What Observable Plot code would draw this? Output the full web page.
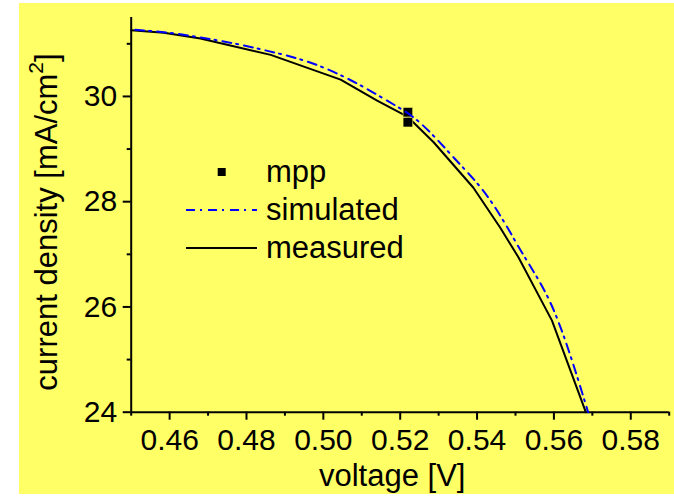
<!DOCTYPE html>
<html>
<head>
<meta charset="utf-8">
<script src="https://cdn.jsdelivr.net/npm/d3@7"></script>
<script src="https://cdn.jsdelivr.net/npm/@observablehq/plot@0.6"></script>
<style>
  html, body { margin: 0; padding: 0; background: #ffffff; }
  #wrap { position: relative; width: 674px; height: 499px; overflow: hidden; }
  #bg { position: absolute; left: 19px; top: 3px; width: 655px; height: 491px; background: #FFFF66; }
  #chart { position: absolute; left: 0; top: 0; }
  svg { font-family: "Liberation Sans", Arial, sans-serif; }
</style>
</head>
<body>
<div id="wrap"><div id="bg"></div><div id="chart"></div></div>
<script>
// ---- data ----
const measuredV = [0.450, 0.4585, 0.468, 0.4863, 0.5045, 0.514, 0.522, 0.5287, 0.539, 0.546, 0.5508, 0.5595, 0.5683];
const measuredJ = [31.26, 31.21, 31.10, 30.79, 30.32, 29.92, 29.61, 29.13, 28.27, 27.51, 26.94, 25.74, 24.00];

const simulatedV = [0.450, 0.4585, 0.4706, 0.4823, 0.4993, 0.5166, 0.5235, 0.5339, 0.5435, 0.5509, 0.5604, 0.5689];
const simulatedJ = [31.27, 31.22, 31.09, 30.92, 30.57, 29.92, 29.60, 28.84, 28.02, 27.13, 25.86, 24.00];

const mppV = [0.522, 0.522];
const mppJ = [29.70, 29.51];

const xMajorTicks = [0.46, 0.48, 0.50, 0.52, 0.54, 0.56, 0.58];
const xMinorTicks = [0.45, 0.47, 0.49, 0.51, 0.53, 0.55, 0.57, 0.59];
const yMajorTicks = [24, 26, 28, 30];
const yMinorTicks = [25, 27, 29, 31];

const legendLabels = ["mpp", "simulated", "measured"];
const xTitle = "voltage [V]";
const yTitle = "current density [mA/cm";

// ---- build tables ----
const measured = measuredV.map((v, i) => ({v, j: measuredJ[i]}));
const simulated = simulatedV.map((v, i) => ({v, j: simulatedJ[i]}));
const mpp = mppV.map((v, i) => ({v, j: mppJ[i]}));

const FONT = "Liberation Sans, Arial, sans-serif";

const chart = Plot.plot({
  width: 674,
  height: 499,
  marginLeft: 130.7,
  marginRight: 5.3,
  marginTop: 17,
  marginBottom: 87.3,
  style: {background: "transparent", fontFamily: FONT, color: "black", overflow: "visible"},
  x: {domain: [0.45, 0.59]},
  y: {domain: [24, 31.5]},
  marks: [
    Plot.axisX({ticks: xMajorTicks, tickSize: 8, tickPadding: 8, tickFormat: d3.format(".2f"), fontSize: 30, label: null, strokeWidth: 2, stroke: "black", fill: "black"}),
    Plot.axisX({ticks: xMinorTicks, tickSize: 4, tickFormat: () => "", label: null, strokeWidth: 2, stroke: "black"}),
    Plot.axisY({ticks: yMajorTicks, tickSize: 8, tickPadding: 6, tickFormat: d3.format("d"), fontSize: 30, label: null, strokeWidth: 2, stroke: "black", fill: "black"}),
    Plot.axisY({ticks: yMinorTicks, tickSize: 4, tickFormat: () => "", label: null, strokeWidth: 2, stroke: "black"}),
    Plot.ruleX([0.45], {stroke: "black", strokeWidth: 2}),
    Plot.ruleY([24], {stroke: "black", strokeWidth: 2}),
    Plot.line(measured, {x: "v", y: "j", stroke: "black", strokeWidth: 2}),
    Plot.dot(mpp, {x: "v", y: "j", symbol: "square", r: 5.4, fill: "black", stroke: "#FFFF66", strokeWidth: 0.6}),
    Plot.line(simulated, {x: "v", y: "j", stroke: "#0000FF", strokeWidth: 2, strokeDasharray: "9,5,2,6", strokeDashoffset: -4, curve: "monotone-x"}),
    Plot.text([xTitle], {frameAnchor: "bottom", lineAnchor: "bottom", dy: 74, dx: -8, fontSize: 31, fill: "black"})
  ]
});

document.getElementById("chart").appendChild(chart);

// ---- y-axis title with superscript ----
const svg = d3.select(chart);
const yt = svg.append("text")
  .attr("transform", "translate(57,222) rotate(-90)")
  .attr("text-anchor", "middle")
  .attr("font-size", 31)
  .attr("font-family", FONT)
  .attr("fill", "black");
yt.append("tspan").text(yTitle);
yt.append("tspan").attr("font-size", 21).attr("dy", -14).text("2");
yt.append("tspan").attr("dy", 14).text("]");

// ---- legend ----
const lg = svg.append("g").attr("font-family", FONT).attr("font-size", 31).attr("fill", "black").attr("text-anchor", "start");
const rowY = [182, 220, 258];
lg.append("rect").attr("x", 217.7).attr("y", rowY[0] - 14).attr("width", 8).attr("height", 8).attr("fill", "black");
lg.append("line").attr("x1", 186).attr("x2", 257).attr("y1", rowY[1] - 10).attr("y2", rowY[1] - 10)
  .attr("stroke", "#0000FF").attr("stroke-width", 2).attr("stroke-dasharray", "9,5,2,6");
lg.append("line").attr("x1", 186).attr("x2", 257).attr("y1", rowY[2] - 10).attr("y2", rowY[2] - 10)
  .attr("stroke", "black").attr("stroke-width", 2);
legendLabels.forEach((t, i) => {
  lg.append("text").attr("x", 266).attr("y", rowY[i]).attr("text-anchor", "start").text(t);
});
</script>
</body>
</html>
